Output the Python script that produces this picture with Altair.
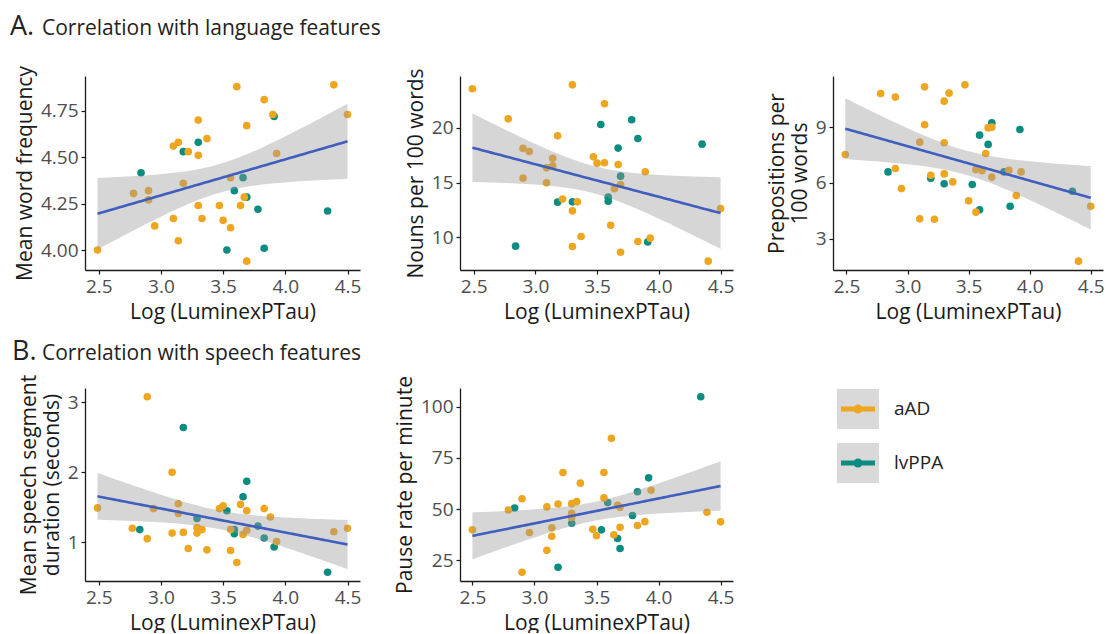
import altair as alt
import numpy as np
import pandas as pd

ORANGE = "#EEA620"
TEAL = "#0B8C80"
GROUPS = ["aAD", "lvPPA"]
X_TITLE = "Log (LuminexPTau)"
X_TICKS = [2.5, 3.0, 3.5, 4.0, 4.5]

# ---- Panel A1: Mean word frequency ----
a1_x = [2.49, 2.78, 2.84, 2.90, 2.90, 2.95, 3.10, 3.10, 3.14, 3.14, 3.18, 3.22, 3.18, 3.30, 3.30,
        3.30, 3.30, 3.33, 3.37, 3.47, 3.50, 3.53, 3.56, 3.56, 3.59, 3.61, 3.64, 3.66, 3.67, 3.69,
        3.69, 3.69, 3.78, 3.83, 3.83, 3.90, 3.91, 3.93, 4.34, 4.39, 4.50]
a1_y = [4.00, 4.305, 4.416, 4.32, 4.27, 4.13, 4.56, 4.17, 4.58, 4.05, 4.53, 4.53, 4.36, 4.70, 4.58,
        4.51, 4.24, 4.17, 4.60, 4.24, 4.16, 4.00, 4.12, 4.39, 4.32, 4.88, 4.24, 4.39, 4.285, 4.285,
        4.67, 3.94, 4.22, 4.81, 4.01, 4.73, 4.72, 4.52, 4.21, 4.89, 4.73]
a1_g = ["aAD", "aAD", "lvPPA", "aAD", "aAD", "aAD", "aAD", "aAD", "aAD", "aAD", "lvPPA", "aAD", "aAD", "aAD", "lvPPA",
        "aAD", "aAD", "aAD", "aAD", "aAD", "aAD", "lvPPA", "aAD", "aAD", "lvPPA", "aAD", "aAD", "lvPPA", "aAD", "lvPPA",
        "aAD", "aAD", "lvPPA", "aAD", "lvPPA", "aAD", "lvPPA", "aAD", "lvPPA", "aAD", "aAD"]

# ---- Panel A2: Nouns per 100 words ----
a2_x = [2.49, 2.78, 2.84, 2.90, 2.90, 2.95, 3.09, 3.09, 3.14, 3.14, 3.18, 3.18, 3.22, 3.30, 3.30,
        3.30, 3.30, 3.34, 3.37, 3.47, 3.50, 3.53, 3.56, 3.56, 3.59, 3.59, 3.61, 3.64, 3.67, 3.67,
        3.69, 3.69, 3.69, 3.78, 3.83, 3.83, 3.89, 3.91, 3.93, 4.35, 4.40, 4.50]
a2_y = [23.56, 20.82, 9.21, 18.12, 15.41, 17.84, 14.98, 16.35, 17.23, 16.53, 19.27, 13.22, 13.50, 23.92, 13.25,
        12.43, 9.18, 13.25, 10.09, 17.36, 16.78, 20.30, 22.19, 16.81, 13.68, 13.31, 11.12, 14.45, 18.15, 16.66,
        15.59, 14.83, 8.66, 20.73, 19.03, 9.64, 15.99, 9.60, 9.94, 18.51, 7.84, 12.64]
a2_g = ["aAD", "aAD", "lvPPA", "aAD", "aAD", "aAD", "aAD", "aAD", "aAD", "aAD", "aAD", "lvPPA", "aAD", "aAD", "lvPPA",
        "aAD", "aAD", "aAD", "aAD", "aAD", "aAD", "lvPPA", "aAD", "aAD", "lvPPA", "lvPPA", "aAD", "aAD", "lvPPA", "aAD",
        "lvPPA", "aAD", "aAD", "lvPPA", "lvPPA", "aAD", "aAD", "lvPPA", "aAD", "lvPPA", "aAD", "aAD"]

# ---- Panel A3: Prepositions per 100 words ----
a3_x = [2.49, 2.78, 2.84, 2.90, 2.90, 2.95, 3.10, 3.10, 3.14, 3.14, 3.19, 3.19, 3.22, 3.30, 3.30,
        3.30, 3.30, 3.34, 3.37, 3.47, 3.50, 3.53, 3.56, 3.56, 3.59, 3.59, 3.61, 3.64, 3.66, 3.66,
        3.69, 3.69, 3.69, 3.79, 3.83, 3.84, 3.89, 3.92, 3.93, 4.35, 4.40, 4.50]
a3_y = [7.53, 10.81, 6.59, 10.62, 6.77, 5.69, 4.06, 8.19, 11.17, 9.13, 6.25, 6.41, 4.04, 10.40, 8.16,
        6.48, 5.95, 10.83, 6.05, 11.28, 5.03, 5.91, 6.72, 4.42, 8.57, 4.55, 6.65, 7.58, 8.96, 8.07,
        9.23, 9.00, 6.31, 6.59, 6.68, 4.74, 5.32, 8.87, 6.59, 5.55, 1.78, 4.74]
a3_g = ["aAD", "aAD", "lvPPA", "aAD", "aAD", "aAD", "aAD", "aAD", "aAD", "aAD", "lvPPA", "aAD", "aAD", "aAD", "aAD",
        "aAD", "lvPPA", "aAD", "aAD", "aAD", "aAD", "lvPPA", "aAD", "aAD", "lvPPA", "lvPPA", "aAD", "aAD", "aAD", "lvPPA",
        "lvPPA", "aAD", "aAD", "lvPPA", "aAD", "lvPPA", "aAD", "lvPPA", "aAD", "lvPPA", "aAD", "aAD"]

# ---- Panel B1: Mean speech segment duration ----
b1_x = [2.49, 2.77, 2.83, 2.89, 2.89, 2.94, 3.09, 3.09, 3.14, 3.14, 3.18, 3.18, 3.22, 3.29, 3.29,
        3.29, 3.31, 3.33, 3.37, 3.47, 3.50, 3.53, 3.56, 3.56, 3.59, 3.59, 3.61, 3.64, 3.66, 3.66,
        3.69, 3.69, 3.69, 3.78, 3.83, 3.83, 3.88, 3.91, 3.93, 4.34, 4.39, 4.50]
b1_y = [1.49, 1.20, 1.18, 3.08, 1.05, 1.48, 2.00, 1.13, 1.55, 1.41, 1.14, 2.64, 0.91, 1.34, 1.21,
        1.13, 1.18, 1.18, 0.89, 1.48, 1.52, 1.45, 0.88, 1.18, 1.18, 1.12, 0.71, 1.54, 1.65, 1.11,
        1.87, 1.45, 1.17, 1.23, 1.48, 1.06, 1.36, 0.93, 1.01, 0.57, 1.15, 1.20]
b1_g = ["aAD", "aAD", "lvPPA", "aAD", "aAD", "aAD", "aAD", "aAD", "aAD", "aAD", "aAD", "lvPPA", "aAD", "lvPPA", "aAD",
        "aAD", "aAD", "aAD", "aAD", "aAD", "aAD", "lvPPA", "aAD", "aAD", "lvPPA", "lvPPA", "aAD", "aAD", "lvPPA", "aAD",
        "lvPPA", "aAD", "aAD", "lvPPA", "aAD", "lvPPA", "aAD", "lvPPA", "aAD", "lvPPA", "aAD", "aAD"]

# ---- Panel B2: Pause rate per minute ----
b2_x = [2.50, 2.79, 2.84, 2.90, 2.90, 2.96, 3.10, 3.10, 3.14, 3.14, 3.19, 3.19, 3.23, 3.30, 3.30,
        3.30, 3.30, 3.34, 3.37, 3.47, 3.50, 3.54, 3.56, 3.56, 3.59, 3.62, 3.64, 3.67, 3.67, 3.69,
        3.69, 3.69, 3.79, 3.83, 3.83, 3.89, 3.92, 3.94, 4.34, 4.39, 4.50]
b2_y = [39.9, 49.6, 50.6, 55.1, 19.2, 38.6, 51.1, 29.9, 40.9, 36.8, 21.6, 52.5, 67.9, 52.7, 48.0,
        45.9, 43.1, 53.7, 62.7, 40.2, 37.0, 39.9, 67.9, 55.5, 53.2, 84.6, 37.5, 51.9, 35.7, 50.9,
        41.2, 30.8, 46.9, 58.5, 42.0, 43.9, 65.3, 59.2, 104.9, 48.5, 43.8]
b2_g = ["aAD", "aAD", "lvPPA", "aAD", "aAD", "aAD", "aAD", "aAD", "aAD", "aAD", "lvPPA", "aAD", "aAD", "aAD", "aAD",
        "aAD", "lvPPA", "aAD", "aAD", "aAD", "aAD", "lvPPA", "aAD", "aAD", "lvPPA", "aAD", "aAD", "aAD", "lvPPA", "aAD",
        "aAD", "lvPPA", "lvPPA", "lvPPA", "aAD", "aAD", "lvPPA", "aAD", "lvPPA", "aAD", "aAD"]

T_CRIT = 2.02  # ~97.5% t quantile for ~40 df (95% confidence band)


def fit_frame(x, y, n=80):
    x = np.asarray(x, float)
    y = np.asarray(y, float)
    X = np.column_stack([np.ones(len(x)), x])
    beta, *_ = np.linalg.lstsq(X, y, rcond=None)
    resid = y - X @ beta
    s2 = resid @ resid / (len(x) - 2)
    xtxi = np.linalg.inv(X.T @ X)
    gx = np.linspace(x.min(), x.max(), n)
    G = np.column_stack([np.ones(n), gx])
    fit = G @ beta
    se = np.sqrt(s2 * np.einsum("ij,jk,ik->i", G, xtxi, G))
    return pd.DataFrame({"x": gx, "fit": fit, "lo": fit - T_CRIT * se, "hi": fit + T_CRIT * se})


def expand(vals, f=0.05):
    lo, hi = min(vals), max(vals)
    r = hi - lo
    return [lo - f * r, hi + f * r]


color_scale = alt.Scale(domain=GROUPS, range=[ORANGE, TEAL])
W1, W2, W3 = 275, 273, 270
H1, H2 = 194, 193


def panel_layers(x, y, g, ytitle, yticks, yfmt):
    df = pd.DataFrame({"x": x, "y": y, "group": g})
    df["order"] = df["group"].map({"lvPPA": 0, "aAD": 1})
    df = df.sort_values("order", kind="stable")
    fr = fit_frame(x, y)
    xs = alt.Scale(domain=expand(x), nice=False, zero=False)
    ys = alt.Scale(domain=expand(y), nice=False, zero=False)
    xax = alt.Axis(values=X_TICKS, format=".1f", title=X_TITLE)
    yax = alt.Axis(values=yticks, format=yfmt, title=ytitle)
    pts = alt.Chart(df).mark_circle(size=58, opacity=1).encode(
        x=alt.X("x:Q", scale=xs, axis=xax),
        y=alt.Y("y:Q", scale=ys, axis=yax),
        color=alt.Color("group:N", scale=color_scale, legend=None),
    )
    band = alt.Chart(fr).mark_area(color="#999999", opacity=0.4).encode(
        x=alt.X("x:Q", scale=xs, axis=xax),
        y=alt.Y("lo:Q", scale=ys, axis=yax),
        y2="hi:Q",
    )
    line = alt.Chart(fr).mark_line(color="#3F5EBE", strokeWidth=2.6).encode(
        x=alt.X("x:Q", scale=xs, axis=xax),
        y=alt.Y("fit:Q", scale=ys, axis=yax),
    )
    return [pts, band, line]


def section_title(letter, text, lx, tx, by):
    d = pd.DataFrame({"a": [letter], "b": [text]})
    t1 = alt.Chart(d).mark_text(align="left", baseline="alphabetic", font="Open Sans",
                                fontSize=27, color="#222222").encode(
        x=alt.value(lx), y=alt.value(by), text="a:N")
    t2 = alt.Chart(d).mark_text(align="left", baseline="alphabetic", font="Open Sans",
                                fontSize=21, color="#222222").encode(
        x=alt.value(tx), y=alt.value(by), text="b:N")
    return [t1, t2]


p1 = alt.layer(*panel_layers(a1_x, a1_y, a1_g, "Mean word frequency", [4.0, 4.25, 4.5, 4.75], ".2f"),
               *section_title("A.", "Correlation with language features", -75, -43, -41)
               ).properties(width=W1, height=H1)
p2 = alt.layer(*panel_layers(a2_x, a2_y, a2_g, "Nouns per 100 words", [10, 15, 20], "d")
               ).properties(width=W2, height=H1)
p3 = alt.layer(*panel_layers(a3_x, a3_y, a3_g, ["Prepositions per", "100 words"], [3, 6, 9], "d")
               ).properties(width=W3, height=H1)
p4 = alt.layer(*panel_layers(b1_x, b1_y, b1_g, ["Mean speech segment", "duration (seconds)"], [1, 2, 3], "d"),
               *section_title("B.", "Correlation with speech features", -73, -43, -28)
               ).properties(width=W1, height=H2)
p5 = alt.layer(*panel_layers(b2_x, b2_y, b2_g, "Pause rate per minute", [25, 50, 75, 100], "d")
               ).properties(width=W2, height=H2)

# ---- manual legend ----
leg_df = pd.DataFrame({"group": GROUPS})
leg_y = alt.Y("group:N", axis=None, scale=alt.Scale(domain=GROUPS, paddingInner=0.26, paddingOuter=0.02))
leg_box = alt.Chart(leg_df).mark_rect(color="#D9D9D9").encode(x=alt.value(4), x2=alt.value(46), y=leg_y)
leg_line = alt.Chart(leg_df).mark_rule(strokeWidth=5).encode(
    x=alt.value(8), x2=alt.value(42), y=leg_y,
    color=alt.Color("group:N", scale=color_scale, legend=None))
leg_pt = alt.Chart(leg_df).mark_circle(size=80, opacity=1).encode(
    x=alt.value(25), y=leg_y, color=alt.Color("group:N", scale=color_scale, legend=None))
leg_txt = alt.Chart(leg_df).mark_text(align="left", baseline="middle", font="Open Sans",
                                      fontSize=19, color="#222222").encode(
    x=alt.value(61), y=leg_y, text="group:N")
legend = alt.layer(leg_box, leg_line, leg_pt, leg_txt).properties(width=W3, height=96)

chart = alt.concat(p1, p2, p3, p4, p5, legend, columns=3,
                   spacing={"row": 118, "column": 100}, bounds="flush").properties(
    padding={"left": 10, "top": 13, "right": 0, "bottom": 0}
).configure_view(stroke=None).configure_axis(
    grid=False,
    domainColor="#1a1a1a",
    domainWidth=1.3,
    tickColor="#1a1a1a",
    tickSize=4,
    tickWidth=1.2,
    labelColor="#4d4d4d",
    labelFontSize=19,
    labelFont="Open Sans",
    labelPadding=3,
    titleFont="Open Sans",
    titleFontSize=21,
    titleFontWeight="normal",
    titleColor="#1a1a1a",
    titlePadding=5,
)

chart.save("out.html", embed_options={"renderer": "svg", "actions": False})
